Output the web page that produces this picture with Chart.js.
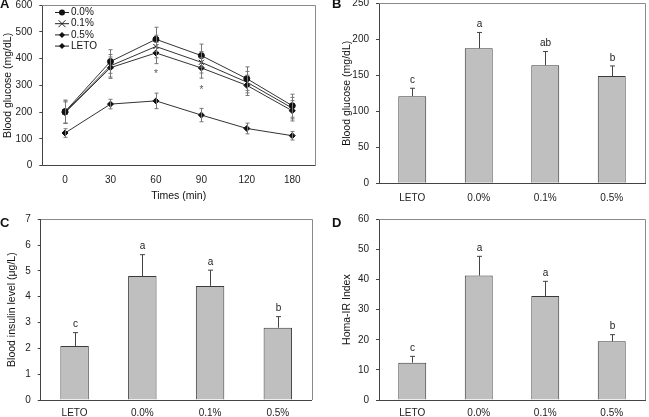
<!DOCTYPE html>
<html>
<head>
<meta charset="utf-8">
<script src="https://cdn.jsdelivr.net/npm/chart.js@4.4.0/dist/chart.umd.min.js"></script>
<style>
body { margin: 0; background: #fff; width: 649px; height: 417px; position: relative; overflow: hidden; font-family: "Liberation Sans", Arial, sans-serif; }
canvas { position: absolute; }
.tag { position: absolute; font-weight: bold; font-size: 13px; color: #111; line-height: 13px; }
</style>
</head>
<body>
<canvas id="chartA" width="330" height="210" style="left:0;top:0"></canvas>
<canvas id="chartB" width="319" height="210" style="left:330px;top:0"></canvas>
<canvas id="chartC" width="330" height="207" style="left:0;top:210px"></canvas>
<canvas id="chartD" width="319" height="207" style="left:330px;top:210px"></canvas>
<div class="tag" style="left:0;top:-3px">A</div>
<div class="tag" style="left:332px;top:-3px">B</div>
<div class="tag" style="left:0;top:216px">C</div>
<div class="tag" style="left:332px;top:216px">D</div>
<script>
// panel A - glucose tolerance
var times = ["0", "30", "60", "90", "120", "180"];
var gluNames = ["0.0%", "0.1%", "0.5%", "LETO"];
var glu00 = [202, 389, 472, 411, 325, 224];
var glu01 = [200, 373, 445, 386, 312, 215];
var glu05 = [198, 366, 421, 365, 300, 205];
var gluLeto = [122, 230, 242, 189, 139, 112];
var err00 = [43, 44, 45, 43, 44, 43];
var err01 = [42, 42, 42, 40, 40, 40];
var err05 = [40, 40, 40, 38, 38, 38];
var errLeto = [16, 18, 29, 25, 20, 16];
var starTimes = ["60", "90"];
var starValues = [349, 289];

// panels B, C, D
var groups = ["LETO", "0.0%", "0.1%", "0.5%"];
var fastGlu = [121, 187.5, 164, 149];
var fastGluErr = [11, 22, 19, 14];
var fastGluSig = ["c", "a", "ab", "b"];
var insulin = [2.09, 4.8, 4.42, 2.8];
var insulinErr = [0.52, 0.83, 0.61, 0.43];
var insulinSig = ["c", "a", "a", "b"];
var homa = [12.4, 41.3, 34.5, 19.5];
var homaErr = [2.1, 6.4, 4.9, 2.2];
var homaSig = ["c", "a", "a", "b"];

Chart.defaults.font.family = "'Liberation Sans', Arial, sans-serif";
Chart.defaults.font.size = 10;
Chart.defaults.color = "#222";
Chart.defaults.animation = false;

function drawMarker(ctx, style, r, x, y) {
  ctx.beginPath();
  if (style == "circle") {
    ctx.arc(x, y, r, 0, Math.PI * 2);
    ctx.fill();
  } else if (style == "crossRot") {
    ctx.moveTo(x - r, y - r); ctx.lineTo(x + r, y + r);
    ctx.moveTo(x + r, y - r); ctx.lineTo(x - r, y + r);
    ctx.stroke();
  } else {
    ctx.moveTo(x, y - r); ctx.lineTo(x + r, y); ctx.lineTo(x, y + r); ctx.lineTo(x - r, y);
    ctx.closePath();
    ctx.fill();
  }
}

// error bars + letters above them
var errorBars = {
  id: "errorBars",
  afterDatasetsDraw: function (chart) {
    var ctx = chart.ctx, ys = chart.scales.y;
    chart.data.datasets.forEach(function (ds, i) {
      if (!ds.errors) return;
      var meta = chart.getDatasetMeta(i);
      ctx.save();
      ctx.strokeStyle = ds.errColor;
      ctx.lineWidth = 1;
      meta.data.forEach(function (el, j) {
        var v = ds.data[j], e = ds.errors[j];
        var x = Math.round(el.x) + 0.5;
        var top = ys.getPixelForValue(v + e);
        var bot = ds.errBoth ? ys.getPixelForValue(v - e) : el.y;
        ctx.beginPath();
        ctx.moveTo(x, top); ctx.lineTo(x, bot);
        ctx.moveTo(x - ds.cap, top); ctx.lineTo(x + ds.cap, top);
        if (ds.errBoth) { ctx.moveTo(x - ds.cap, bot); ctx.lineTo(x + ds.cap, bot); }
        ctx.stroke();
        if (ds.sig) {
          ctx.fillStyle = "#222";
          ctx.font = "10px 'Liberation Sans', Arial";
          ctx.textAlign = "center";
          ctx.textBaseline = "middle";
          ctx.fillText(ds.sig[j], x, top - 8);
        }
      });
      ctx.restore();
    });
  }
};

// top and right border of the plot frame
var frame = {
  id: "frame",
  afterDraw: function (chart) {
    var a = chart.chartArea, ctx = chart.ctx;
    ctx.save();
    ctx.strokeStyle = "#8a8a8a";
    ctx.lineWidth = 1;
    ctx.beginPath();
    ctx.moveTo(Math.round(a.left), Math.round(a.top) + 0.5);
    ctx.lineTo(Math.round(a.right) + 0.5, Math.round(a.top) + 0.5);
    ctx.lineTo(Math.round(a.right) + 0.5, Math.round(a.bottom));
    ctx.stroke();
    ctx.restore();
  }
};

function yAxis(max, step, title, width, titlePad) {
  return {
    min: 0, max: max,
    ticks: { stepSize: step, padding: 7 },
    grid: { drawOnChartArea: false, tickLength: 3, color: "#444" },
    border: { color: "#444" },
    title: { display: true, text: title, font: { size: 10.5 }, color: "#111", padding: { top: titlePad, bottom: 0 } },
    afterFit: function (s) { s.width = width; s.paddingTop = 0; s.paddingBottom = 0; }
  };
}

function xAxis(height, pad) {
  return {
    grid: { display: false, drawTicks: false },
    border: { color: "#444" },
    ticks: { padding: pad },
    afterFit: function (s) { s.height = height; s.paddingLeft = 0; s.paddingRight = 0; }
  };
}

// ---- A ----
var lineStyles = ["circle", "crossRot", "rectRot", "rectRot"];
var lineRadius = [3, 3.5, 3, 3];
var lineData = [glu00, glu01, glu05, gluLeto];
var lineErr = [err00, err01, err05, errLeto];

var legendA = {
  id: "legendA",
  afterDraw: function (chart) {
    var ctx = chart.ctx;
    ctx.save();
    ctx.strokeStyle = "#222"; ctx.fillStyle = "#111"; ctx.lineWidth = 1;
    gluNames.forEach(function (name, i) {
      var y = 12.5 + i * 11.2;
      ctx.beginPath(); ctx.moveTo(55, y); ctx.lineTo(69, y); ctx.stroke();
      drawMarker(ctx, lineStyles[i], lineRadius[i], 62, y);
      ctx.fillStyle = "#111";
      ctx.font = "10px 'Liberation Sans', Arial";
      ctx.textBaseline = "middle"; ctx.textAlign = "left";
      ctx.fillText(name, 71, y);
    });
    // significance marks
    ctx.fillStyle = "#555";
    ctx.textAlign = "center";
    starTimes.forEach(function (t, k) {
      ctx.fillText("*", chart.scales.x.getPixelForValue(times.indexOf(t)), chart.scales.y.getPixelForValue(starValues[k]) + 2);
    });
    ctx.restore();
  }
};

new Chart("chartA", {
  type: "line",
  data: {
    labels: times,
    datasets: gluNames.map(function (n, i) {
      return {
        label: n, data: lineData[i], errors: lineErr[i], errBoth: true, errColor: "#777", cap: 2,
        borderColor: "#333", borderWidth: 1, backgroundColor: "#111",
        pointStyle: lineStyles[i], pointRadius: lineRadius[i], pointBorderColor: "#111", pointBorderWidth: 1
      };
    })
  },
  options: {
    responsive: false,
    layout: { padding: { top: 3, right: 15, left: 0, bottom: 0 } },
    plugins: { legend: { display: false }, tooltip: { enabled: false } },
    scales: {
      x: Object.assign(xAxis(44.3, 9), { offset: true, title: { display: true, text: "Times (min)", font: { size: 10.5 }, color: "#111", padding: { top: 0, bottom: 7.7 } } }),
      y: yAxis(600, 100, "Blood glucose (mg/dL)", 42.3, 1.7)
    }
  },
  plugins: [errorBars, frame, legendA]
});

// ---- bar panels ----
function barChart(id, vals, errs, sig, max, step, title, yWidth, titlePad, xHeight, xPad, padTop, padRight) {
  new Chart(id, {
    type: "bar",
    data: {
      labels: groups,
      datasets: [{
        data: vals, errors: errs, sig: sig, errColor: "#444", cap: 2.5,
        backgroundColor: "#bfbfbf", borderColor: "#3a3a3a", borderWidth: 1,
        barPercentage: 0.42, categoryPercentage: 1
      }]
    },
    options: {
      responsive: false,
      layout: { padding: { top: padTop, right: padRight, left: 0, bottom: 0 } },
      plugins: { legend: { display: false }, tooltip: { enabled: false } },
      scales: {
        x: xAxis(xHeight, xPad),
        y: yAxis(max, step, title, yWidth, titlePad)
      }
    },
    plugins: [errorBars, frame]
  });
}

barChart("chartB", fastGlu, fastGluErr, fastGluSig, 250, 50, "Blood glucose (mg/dL)", 49, 10.7, 26.7, 8.5, 3.3, 4);
barChart("chartC", insulin, insulinErr, insulinSig, 7, 1, "Blood insulin level (\u03bcg/L)", 40.7, 5.7, 17, 7.5, 9.3, 18.3);
barChart("chartD", homa, homaErr, homaSig, 60, 10, "Homa-IR Index", 49, 10.7, 17, 7.5, 9.3, 4);
</script>
</body>
</html>
